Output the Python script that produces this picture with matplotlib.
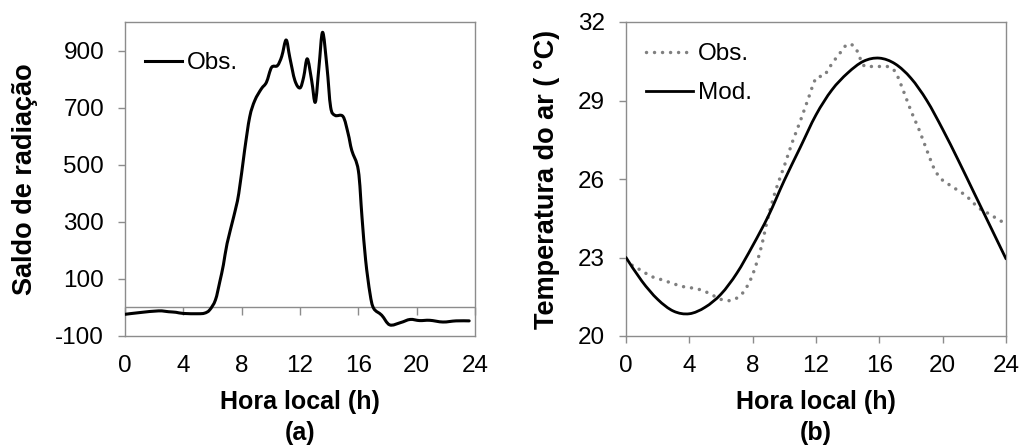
import numpy as np
import matplotlib
matplotlib.use("Agg")
import matplotlib.pyplot as plt
from matplotlib.path import Path
from matplotlib.patches import PathPatch
from matplotlib.lines import Line2D

plt.rcParams['font.family'] = ['Liberation Sans', 'DejaVu Sans']
plt.rcParams['axes.unicode_minus'] = False

# ---------------- data ----------------
# (a) Saldo de radiação observado
hours_a = [0.0, 1.0, 2.3, 3.0, 3.5, 4.0, 5.0, 5.45, 5.8, 6.2, 6.5, 6.75, 7.0,
           7.45, 7.8, 8.2, 8.55, 8.9, 9.35, 9.7, 10.05, 10.45, 10.75, 11.05,
           11.3, 11.65, 12.0, 12.25, 12.5, 12.8, 13.05, 13.3, 13.55, 13.85,
           14.1, 14.4, 14.95, 15.3, 15.55, 16.0, 16.25, 16.5, 16.8, 17.05,
           17.6, 18.15, 18.9, 19.55, 20.2, 20.9, 21.8, 22.7, 23.6]
rad_obs = [-24, -18, -12, -15, -17, -21, -22, -20, -9, 26, 90, 150, 224,
           317, 399, 550, 667, 725, 766, 789, 841, 847, 880, 937,
           876, 795, 769, 807, 871, 795, 719, 842, 964, 842,
           702, 673, 669, 609, 550, 480, 317, 166, 49, -3,
           -27, -61, -53, -42, -46, -45, -51, -47, -47]

# (b) Temperatura do ar
hours_b_obs = [0.0, 0.5, 1.0, 1.5, 2.0, 2.5, 3.0, 3.5, 4.0, 4.5, 5.0, 5.5,
               6.0, 6.5, 7.0, 7.5, 8.0, 8.5, 9.0, 9.5, 10.0, 10.5, 11.0,
               11.5, 12.0, 12.5, 13.0, 13.5, 14.0, 14.5, 15.0, 15.5, 16.0,
               16.5, 17.0, 17.5, 18.0, 18.5, 19.0, 19.5, 20.0, 20.5, 21.0,
               21.5, 22.0, 22.5, 23.0, 23.5, 24.0]
temp_obs = [22.9, 22.65, 22.5, 22.3, 22.2, 22.1, 22.0, 21.9, 21.85, 21.8,
            21.7, 21.55, 21.4, 21.35, 21.45, 21.75, 22.35, 23.3, 24.6, 25.65,
            26.5, 27.4, 28.2, 29.05, 29.85, 29.95, 30.4, 30.8, 31.15, 31.0,
            30.35, 30.3, 30.3, 30.3, 30.1, 29.4, 28.6, 27.9, 27.1, 26.35,
            25.95, 25.75, 25.55, 25.35, 25.05, 24.8, 24.65, 24.45, 24.3]

hours_b_mod = list(range(0, 25))
temp_mod = [23.0, 22.1, 21.4, 20.95, 20.85, 21.1, 21.6, 22.4, 23.45, 24.6,
            25.95, 27.2, 28.45, 29.4, 30.05, 30.5, 30.62, 30.4, 29.85, 29.0,
            27.9, 26.7, 25.45, 24.2, 22.95]

xticks = [0, 4, 8, 12, 16, 20, 24]
yticks_a = [-100, 100, 300, 500, 700, 900]
yticks_b = [20, 23, 26, 29, 32]

xlabel = "Hora local (h)"
ylabel_a = "Saldo de radiação"
ylabel_b = "Temperatura do ar ( °C)"

GRAY = '#8c8c8c'


def smooth_path(x, y):
    """Excel-like smoothed line (Catmull-Rom rendered as cubic Bezier)."""
    pts = np.column_stack([np.asarray(x, float), np.asarray(y, float)])
    verts = [pts[0]]
    codes = [Path.MOVETO]
    n = len(pts)
    for i in range(n - 1):
        p0 = pts[i - 1] if i > 0 else pts[i]
        p1 = pts[i]
        p2 = pts[i + 1]
        p3 = pts[i + 2] if i + 2 < n else pts[i + 1]
        verts += [p1 + (p2 - p0) / 6.0, p2 - (p3 - p1) / 6.0, p2]
        codes += [Path.CURVE4] * 3
    return Path(verts, codes)


fig = plt.figure(figsize=(10.22, 4.45), dpi=100)
axa = fig.add_axes([125 / 1022, 1 - 336 / 445, 350 / 1022, 314 / 445])
axb = fig.add_axes([626 / 1022, 1 - 336 / 445, 380 / 1022, 314 / 445])

TICK_FS = 17.5
XLAB_FS = 18
YLAB_FS = 19.5
LEG_FS = 17.5

for ax in (axa, axb):
    for s in ax.spines.values():
        s.set_color(GRAY)
        s.set_linewidth(1.0)
    ax.set_xlim(0, 24)
    ax.set_xticks(xticks)
    ax.tick_params(colors=GRAY, labelcolor='black', labelsize=TICK_FS,
                   direction='out', length=5, width=1)
    ax.tick_params(axis='y', pad=10)
    ax.set_xlabel(xlabel, fontsize=XLAB_FS, fontweight='bold')
    ax.xaxis.set_label_coords(0.5, (336 - 390) / 314)

# ---------- panel (a) ----------
axa.set_ylim(-100, 1000)
axa.set_yticks(yticks_a)
axa.tick_params(axis='x', length=0, pad=13.5)
axa.axhline(0, color=GRAY, lw=1.0, zorder=1)
sec = axa.secondary_xaxis(100 / 1100)
sec.set_xticks(xticks)
sec.tick_params(colors=GRAY, direction='out', length=6, width=1,
                labelbottom=False, labeltop=False)
sec.spines['bottom'].set_visible(False)
sec.spines['top'].set_visible(False)
axa.add_patch(PathPatch(smooth_path(hours_a, rad_obs), fill=False,
                        edgecolor='black', lw=2.2, capstyle='round',
                        joinstyle='round', zorder=3))
axa.set_ylabel(ylabel_a, fontsize=YLAB_FS, fontweight='bold')
axa.yaxis.set_label_coords((38.5 - 125) / 350, 0.5)
axa.legend(handles=[Line2D([], [], color='black', lw=2.2)], labels=['Obs.'],
           loc='upper left', bbox_to_anchor=(0.057, 0.904), borderaxespad=0,
           borderpad=0, frameon=False, fontsize=LEG_FS, handlelength=1.52,
           handletextpad=0.2)
axa.text(0.5, (336 - 433) / 314, "(a)", transform=axa.transAxes,
         ha='center', va='center', fontsize=XLAB_FS, fontweight='bold')

# ---------- panel (b) ----------
axb.set_ylim(20, 32)
axb.set_yticks(yticks_b)
axb.tick_params(axis='x', pad=8.5)
obs_patch = PathPatch(smooth_path(hours_b_obs, temp_obs), fill=False,
                      edgecolor='#7f7f7f', lw=2.5,
                      linestyle=(0, (0.01, 2.3)), capstyle='round', zorder=3)
axb.add_patch(obs_patch)
axb.add_patch(PathPatch(smooth_path(hours_b_mod, temp_mod), fill=False,
                        edgecolor='black', lw=2.0, capstyle='round',
                        joinstyle='round', zorder=4))
axb.set_ylabel(ylabel_b, fontsize=YLAB_FS, fontweight='bold')
axb.yaxis.set_label_coords((559.5 - 626) / 380, 0.5)
h_obs = Line2D([], [], color='#7f7f7f', lw=2.5, linestyle=(0, (0.01, 2.3)),
               dash_capstyle='round')
h_mod = Line2D([], [], color='black', lw=2.0)
axb.legend(handles=[h_obs, h_mod], labels=['Obs.', 'Mod.'],
           loc='upper left', bbox_to_anchor=(0.0526, 0.933), borderaxespad=0,
           borderpad=0, frameon=False, fontsize=LEG_FS, handlelength=1.93,
           handletextpad=0.2, labelspacing=0.7)
axb.text(0.5, (336 - 433) / 314, "(b)", transform=axb.transAxes,
         ha='center', va='center', fontsize=XLAB_FS, fontweight='bold')

fig.savefig("out.png", dpi=100)
